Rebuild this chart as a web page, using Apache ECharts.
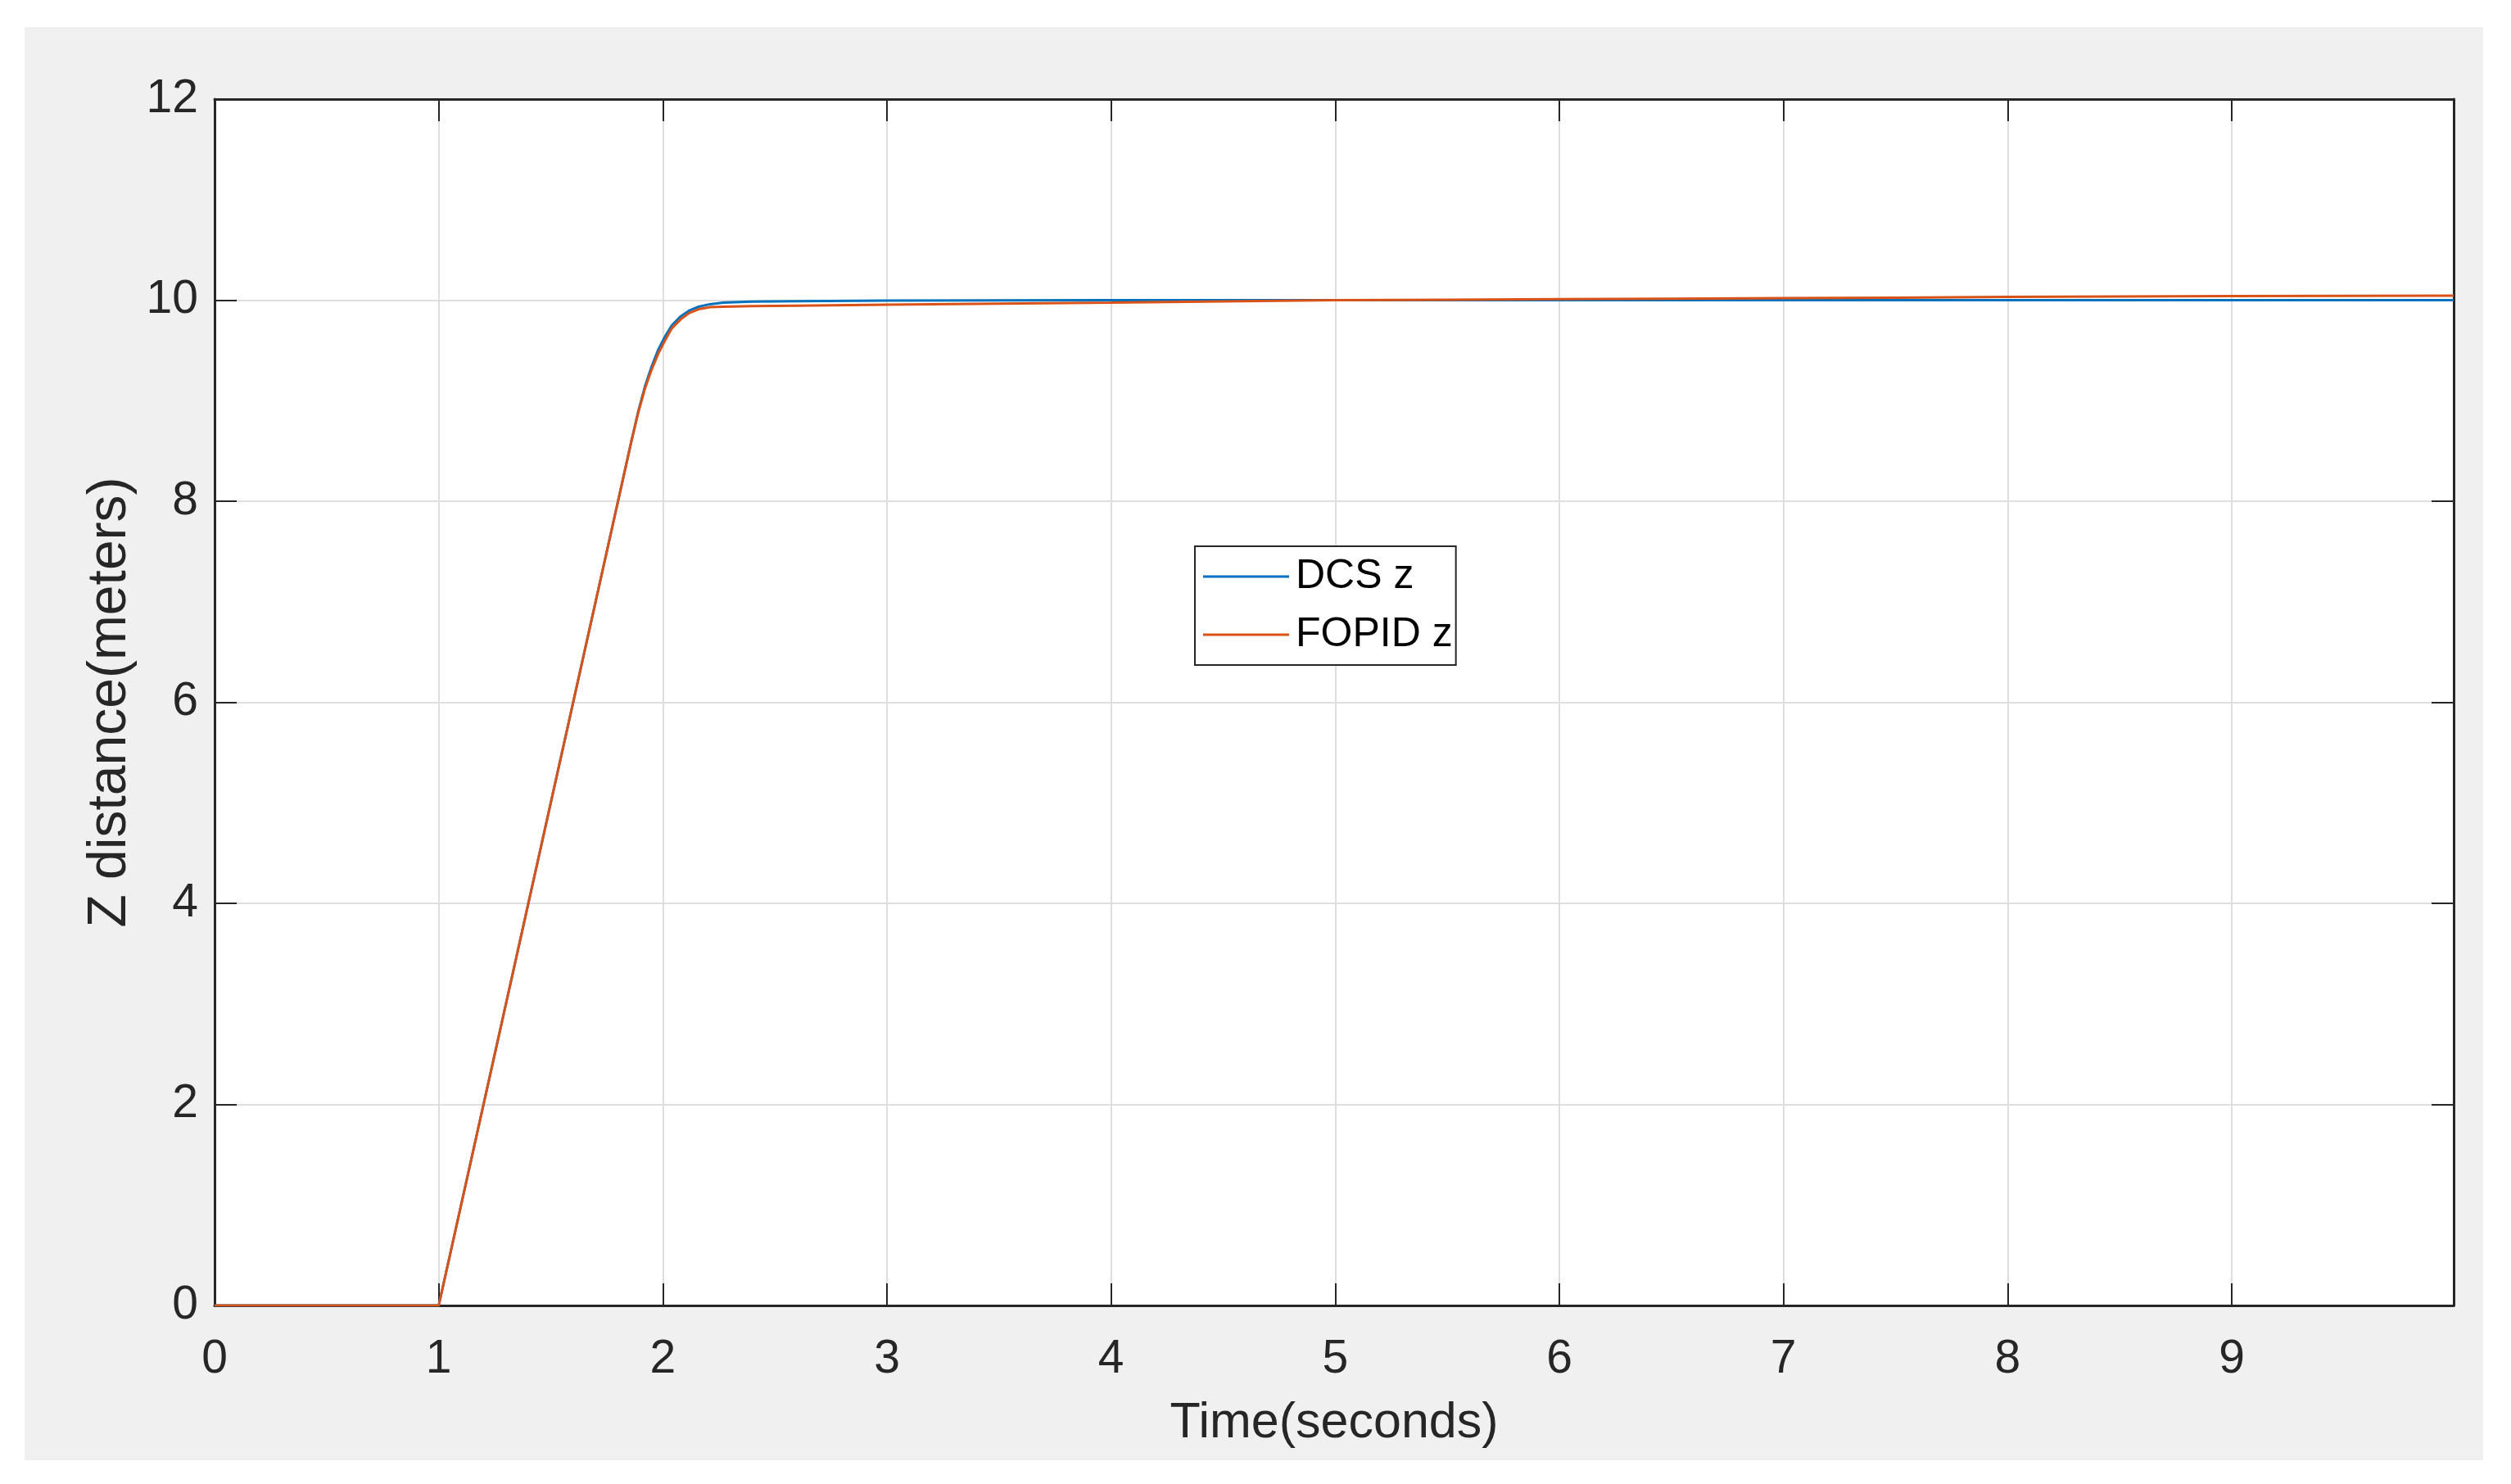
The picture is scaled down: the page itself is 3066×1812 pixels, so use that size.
<!DOCTYPE html>
<html>
<head>
<meta charset="utf-8">
<script src="https://cdn.jsdelivr.net/npm/echarts@6/dist/echarts.min.js"></script>
<style>
  html, body { margin: 0; padding: 0; background: #fff; }
  #chart { width: 3066px; height: 1812px; }
</style>
</head>
<body>
<div id="chart"></div>
<script>
// time in seconds
const time = [0, 1, 1.2, 1.4, 1.6, 1.8, 1.86, 1.89, 1.92, 1.95, 1.98, 2.01, 2.04, 2.08, 2.12, 2.16, 2.21, 2.27, 2.4, 2.6, 3, 3.5, 4, 4.5, 5, 5.5, 6, 6.5, 7, 7.5, 8, 8.5, 9, 9.5, 9.99]
const dcsZ = [0, 0, 2, 4, 6, 8, 8.6, 8.89, 9.14, 9.34, 9.51, 9.64, 9.75, 9.84, 9.9, 9.935, 9.96, 9.975, 9.985, 9.99, 9.995, 9.997, 10.0, 10.0, 10.0, 10.0, 10.0, 10.0, 10.0, 10.0, 10.0, 10.0, 10.0, 10.0, 10.0]
const fopidZ = [0, 0, 2, 4, 6, 8, 8.6, 8.88, 9.12, 9.31, 9.47, 9.6, 9.72, 9.81, 9.875, 9.91, 9.93, 9.935, 9.94, 9.945, 9.955, 9.965, 9.975, 9.988, 10.0, 10.005, 10.01, 10.015, 10.02, 10.025, 10.032, 10.036, 10.04, 10.043, 10.045]
const seriesNames = ['DCS z', 'FOPID z']

const font = "'Liberation Sans', Arial, sans-serif"
const ink = '#262626'

const chart = echarts.init(document.getElementById('chart'))

const pairs = (ys) => time.map((t, i) => [t, ys[i]])

const frameAxis = (extra) => Object.assign({
  type: 'value',
  axisLine: { show: true, onZero: false, lineStyle: { color: ink, width: 3 } },
  axisTick: { show: true, inside: true, length: 27, lineStyle: { color: ink, width: 2 } },
  splitLine: { show: false },
  axisLabel: { show: false },
}, extra)

const option = {
  backgroundColor: '#fff',
  animation: false,
  graphic: [
    {
      type: 'rect',
      z: -10,
      shape: { x: 30, y: 33, width: 3002, height: 1750 },
      style: { fill: '#f0f0f0' },
    },
  ],
  grid: {
    left: 262,
    top: 121,
    width: 2734,
    height: 1473,
    show: true,
    backgroundColor: '#fff',
    borderWidth: 0,
  },
  legend: {
    data: seriesNames,
    orient: 'vertical',
    left: 1459,
    top: 667,
    icon: 'rect',
    itemWidth: 105,
    itemHeight: 3,
    itemGap: 11,
    padding: [7, 4, 7, 10],
    backgroundColor: '#fff',
    borderColor: ink,
    borderWidth: 2,
    borderRadius: 0,
    textStyle: { fontFamily: font, fontSize: 50, color: '#000', lineHeight: 60, padding: [0, 0, 0, 3] },
  },
  xAxis: [
    frameAxis({
      min: 0,
      max: 9.99,
      interval: 1,
      position: 'bottom',
      name: 'Time(seconds)',
      nameLocation: 'middle',
      nameGap: 114,
      nameTextStyle: { fontFamily: font, fontSize: 61, color: ink },
      axisLabel: { show: true, margin: 38, showMaxLabel: false, fontFamily: font, fontSize: 57, color: ink },
      splitLine: { show: true, lineStyle: { color: '#dedede', width: 2 } },
    }),
    frameAxis({ min: 0, max: 9.99, interval: 1, position: 'top' }),
  ],
  yAxis: [
    frameAxis({
      min: 0,
      max: 12,
      interval: 2,
      position: 'left',
      name: 'Z distance(meters)',
      nameLocation: 'middle',
      nameGap: 92,
      nameTextStyle: { fontFamily: font, fontSize: 66, color: ink },
      axisLabel: { show: true, margin: 20, fontFamily: font, fontSize: 57, color: ink },
      splitLine: { show: true, lineStyle: { color: '#dedede', width: 2 } },
    }),
    frameAxis({ min: 0, max: 12, interval: 2, position: 'right' }),
  ],
  series: [
    {
      name: seriesNames[0],
      type: 'line',
      data: pairs(dcsZ),
      showSymbol: false,
      symbol: 'none',
      lineStyle: { color: '#0072BD', width: 3 },
      itemStyle: { color: '#0072BD' },
    },
    {
      name: seriesNames[1],
      type: 'line',
      data: pairs(fopidZ),
      showSymbol: false,
      symbol: 'none',
      lineStyle: { color: '#D95319', width: 3 },
      itemStyle: { color: '#D95319' },
    },
  ],
}

chart.setOption(option)
</script>
</body>
</html>
